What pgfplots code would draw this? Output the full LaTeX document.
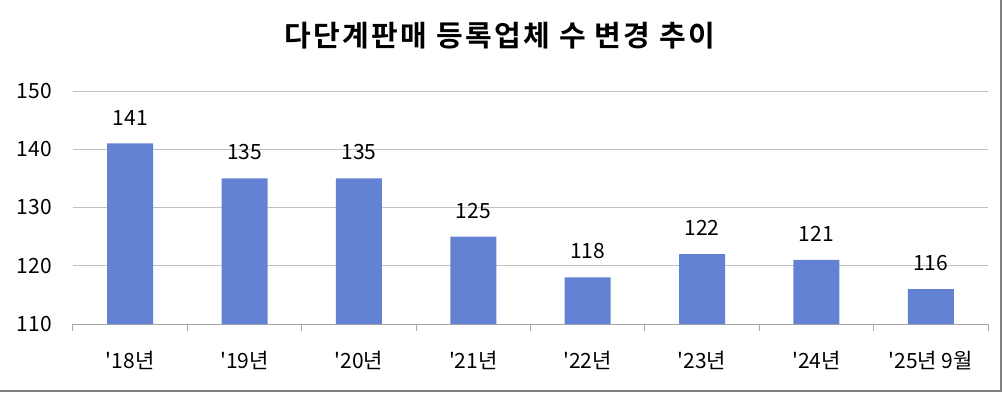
\documentclass[border=0pt]{standalone}
\usepackage{fontspec}
\newfontfamily\kr{Noto Sans CJK KR}
\newfontfamily\krtitle[LetterSpace=8]{Noto Sans CJK KR Bold}
\setmainfont{Noto Sans CJK KR}
\usepackage{pgfplots}
\pgfplotsset{compat=1.18}
\usetikzlibrary{calc}
\definecolor{barblue}{HTML}{6482D4}
\definecolor{gridgray}{HTML}{C0C0C0}
\definecolor{axisgray}{HTML}{A6A6A6}
\definecolor{framegray}{HTML}{808080}
\begin{document}
\begin{tikzpicture}[x=1pt,y=1pt]
\begin{axis}[
  scale only axis, width=915pt, height=233pt,
  xmin=-0.5, xmax=7.5, ymin=110, ymax=150,
  ytick={110,120,...,150},
  xtick={0,...,7},
  xticklabels={{\kr'18년},{\kr'19년},{\kr'20년},{\kr'21년},{\kr'22년},{\kr'23년},{\kr'24년},{\kr'25년 9월}},
  minor xtick={-0.5,0.5,...,7.5},
  major tick length=0pt,
  minor tick length=7pt,
  tick align=outside,
  xtick style={draw=axisgray, line width=1pt},
  ytick style={draw=none},
  ymajorgrids,
  grid style={gridgray, line width=1pt},
  axis x line*=bottom,
  axis y line*=left,
  x axis line style={axisgray, line width=1pt, -},
  y axis line style={draw=none},
  /pgf/number format/assume math mode=true,
  tick label style={font=\kr\fontsize{21}{24}\selectfont},
  yticklabel style={anchor=east, inner sep=0pt, xshift=-21pt},
  xticklabel style={anchor=north, inner sep=0pt, yshift=-27pt},
  clip=false,
]
\addplot[ybar, bar width=46pt, fill=barblue, draw=none,
  nodes near coords,
  every node near coord/.append style={font=\kr\fontsize{21}{24}\selectfont, anchor=south, inner sep=0pt, yshift=18pt, text=black},
] coordinates {(0,141) (1,135) (2,135) (3,125) (4,118) (5,122) (6,121) (7,116)};
\coordinate (O) at (rel axis cs:0,0);
\end{axis}
\pgfresetboundingbox
\path[use as bounding box] ($(O)+(-73,-70)$) rectangle ($(O)+(930,324)$);
\draw[framegray, line width=2pt] ($(O)+(-73,-67)$) -- ($(O)+(928,-67)$) -- ($(O)+(928,324)$);
\node[font=\krtitle\fontsize{29}{34}\selectfont] at ($(O)+(427,288)$) {다단계판매 등록업체 수 변경 추이};
\end{tikzpicture}
\end{document}
